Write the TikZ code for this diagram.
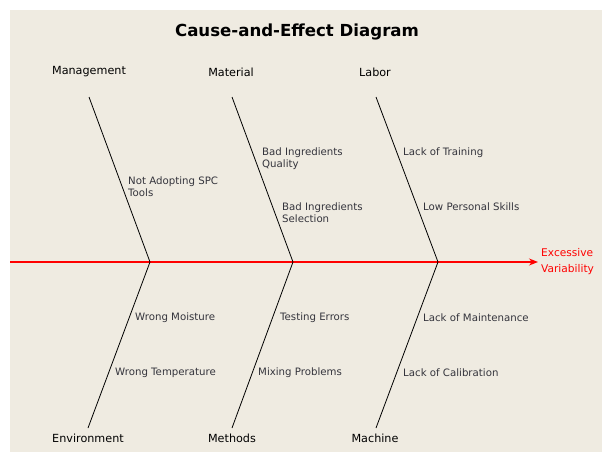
\documentclass[tikz,border=0pt]{standalone}
\usepackage{fontspec}
\setmainfont{DejaVu Sans}
\usetikzlibrary{arrows.meta}
\definecolor{panel}{RGB}{239,235,225}
\definecolor{causetext}{RGB}{52,52,60}
\definecolor{effectred}{RGB}{255,0,0}
\tikzset{
  bone/.style={draw=black, line width=0.8pt},
  category/.style={font=\fontsize{11.2}{13}\selectfont, text=black, inner sep=0pt},
  cause/.style={font=\fontsize{10.2}{12}\selectfont, text=causetext, anchor=west, align=left, inner sep=0pt},
  effect/.style={font=\fontsize{10.6}{16}\selectfont, text=effectred, anchor=west, align=left, inner sep=0pt},
  spine/.style={draw=effectred, line width=1.2pt, -{Stealth[length=9pt,width=7pt]}},
}
\begin{document}
\begin{tikzpicture}[x=1pt,y=-1pt]
  % canvas and panel
  \useasboundingbox (0,0) rectangle (602,452);
  \fill[white] (0,0) rectangle (602,452);
  \fill[panel] (10,10) rectangle (602,452);

  % title
  \node[font=\fontsize{16.6}{19}\selectfont\bfseries, inner sep=0pt] (title) at (297,32) {Cause-and-Effect Diagram};

  % category labels
  \node[category] (mgmt) at (89,72) {Management};
  \node[category] (matl) at (231,72) {Material};
  \node[category] (labr) at (375,72) {Labor};
  \node[category] (envr) at (88,438) {Environment};
  \node[category] (meth) at (232,438) {Methods};
  \node[category] (mach) at (375,438) {Machine};

  % bone end points and joints on the spine
  \coordinate (mgmtTop) at (89,97);
  \coordinate (matlTop) at (232,97);
  \coordinate (labrTop) at (376,97);
  \coordinate (envrEnd) at (88,428);
  \coordinate (methEnd) at (232,428);
  \coordinate (machEnd) at (376,428);
  \coordinate (j1) at (150,262);
  \coordinate (j2) at (293,262);
  \coordinate (j3) at (438,262);
  \coordinate (tail) at (10,262);
  \coordinate (head) at (538,262);

  % main spine
  \draw[spine] (tail) -- (head);

  % bones
  \draw[bone] (mgmtTop) -- (j1) -- (envrEnd);
  \draw[bone] (matlTop) -- (j2) -- (methEnd);
  \draw[bone] (labrTop) -- (j3) -- (machEnd);

  % effect
  \node[effect] (effect) at (541,262) {Excessive\\Variability};

  % causes
  \node[cause] (c1) at (128,187) {Not Adopting SPC\\Tools};
  \node[cause] (c2) at (262,159) {Bad Ingredients\\Quality};
  \node[cause] (c3) at (282,213) {Bad Ingredients\\Selection};
  \node[cause] (c4) at (403,153) {Lack of Training};
  \node[cause] (c5) at (423,207) {Low Personal Skills};
  \node[cause] (c6) at (135,318) {Wrong Moisture};
  \node[cause] (c7) at (115,373) {Wrong Temperature};
  \node[cause] (c8) at (280,318) {Testing Errors};
  \node[cause] (c9) at (258,373) {Mixing Problems};
  \node[cause] (c10) at (423,318) {Lack of Maintenance};
  \node[cause] (c11) at (403,373) {Lack of Calibration};
\end{tikzpicture}
\end{document}
